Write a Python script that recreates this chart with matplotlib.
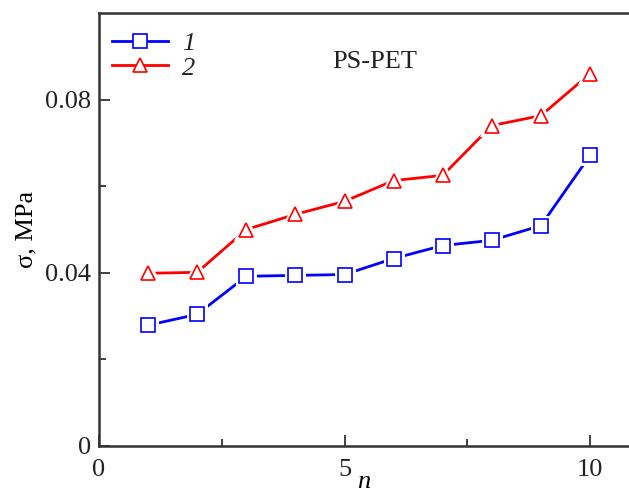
import matplotlib.pyplot as plt
import numpy as np

plt.rcParams['font.family'] = ['Liberation Serif', 'DejaVu Serif']
plt.rcParams['font.size'] = 19

n = [1, 2, 3, 4, 5, 6, 7, 8, 9, 10]
sigma_1 = [0.0279, 0.0304, 0.0392, 0.0394, 0.0396, 0.0433, 0.0463, 0.0475, 0.0509, 0.0671]
sigma_2 = [0.0399, 0.0401, 0.0500, 0.0535, 0.0565, 0.0613, 0.0625, 0.0740, 0.0763, 0.0860]

fig = plt.figure(figsize=(6.29, 4.96), dpi=100)
ax = fig.add_axes([99 / 629, 1 - 446 / 496, 1 - 99 / 629, (446 - 13) / 496])

for y, c, m, ms, lab in [(sigma_1, 'blue', 's', 9.5, '1'), (sigma_2, 'red', '^', 10.5, '2')]:
    ax.plot(n, y, '-', color=c, lw=2, zorder=2)
    # white halo so the line stops short of each marker
    ax.plot(n, y, m, ms=ms, mfc='white', mec='white', mew=5, zorder=3)
    ax.plot(n, y, m, ms=ms, mfc='white', mec=c, mew=1.2, zorder=4)
    ax.plot([], [], '-', marker=m, color=c, lw=2, ms=ms, mfc='white', mec=c, mew=1.2, label=lab)

ax.set_xlim(0, 530 / 49.1)
ax.set_ylim(0, 0.1)
ax.set_xticks([0, 5, 10])
ax.set_xticks([2.5, 7.5], minor=True)
ax.set_yticks([0, 0.04, 0.08])
ax.set_yticklabels(['0', '0.04', '0.08'])
ax.set_yticks([0.02, 0.06], minor=True)
ax.tick_params(which='both', direction='in', colors='#333333', width=1.3, labelcolor='#222222')
ax.tick_params(which='major', length=8)
ax.tick_params(which='minor', length=5)
ax.tick_params(axis='x', pad=9)
ax.tick_params(axis='y', pad=6)
for s in ['left', 'bottom', 'top']:
    ax.spines[s].set_linewidth(1.8)
    ax.spines[s].set_color('#333333')
ax.spines['right'].set_visible(False)

ax.set_xlabel('n', style='italic', labelpad=-7)
ax.set_ylabel('σ, MPa', labelpad=5)
ax.text(375, 496 - 62, 'PS-PET', transform=None, ha='center', va='center', color='#222222')

leg = ax.legend(loc='upper left', bbox_to_anchor=(0, 0.988), frameon=False, handlelength=2.1,
                borderaxespad=0.1, labelspacing=0.05, handletextpad=0.55)
for t in leg.get_texts():
    t.set_style('italic')
    t.set_color('#222222')

fig.savefig('out.png', dpi=100)
